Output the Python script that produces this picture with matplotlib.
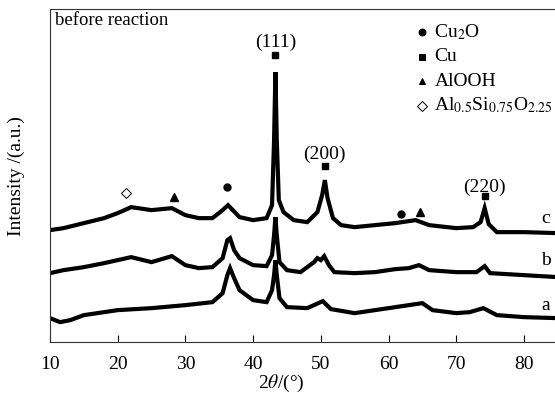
import matplotlib
matplotlib.use("Agg")
import matplotlib.pyplot as plt

plt.rcParams["font.family"] = "Liberation Serif"
plt.rcParams["mathtext.fontset"] = "stix"

# 2theta positions and intensities (a.u., stacked)
c_x = [10, 12, 15, 18, 20, 22, 25, 28, 30, 32, 34, 35.5, 36.3, 37, 38, 40, 42, 42.8, 43.1, 43.3,
       43.5, 43.8, 44.5, 46, 48, 49.5, 50.2, 50.6, 51, 51.8, 53, 55, 58, 61, 64, 66, 70, 72.5,
       73.6, 74.2, 74.8, 76, 80, 85]
c_y = [112, 114, 119, 124, 129, 135, 132, 134, 127, 124, 124, 132, 137, 132, 125, 122, 124, 137, 202, 270,
       202, 142, 130, 122, 120, 130, 147, 162, 144, 124, 117, 115, 117, 119, 122, 117, 114, 115,
       120, 134, 118, 110, 110, 109]

b_x = [10, 12, 15, 18, 20, 22, 25, 28, 30, 32, 34, 35.5, 36.2, 36.6, 37.2, 38, 40, 42, 42.8, 43.1,
       43.3, 43.5, 43.9, 45, 47, 49, 49.5, 50, 50.5, 51.2, 52, 55, 58, 61, 63, 64.5, 66, 70, 73,
       74.2, 75, 80, 85]
b_y = [69, 72, 75, 79, 82, 85, 80, 86, 77, 74, 75, 84, 102, 104, 92, 84, 77, 76, 87, 107,
       125, 107, 80, 72, 70, 80, 84, 82, 86, 77, 70, 69, 70, 73, 74, 77, 72, 70, 70,
       76, 69, 67, 65]

a_x = [10, 11.5, 13, 15, 20, 25, 30, 34, 35.5, 36.2, 36.6, 37.2, 38, 40, 42, 42.8, 43.1, 43.3, 43.5,
       43.9, 45, 48, 50.3, 51.5, 55, 58, 61, 63, 65, 66.5, 70, 72, 74, 76, 80, 85]
a_y = [24, 20, 22, 27, 32, 34, 37, 40, 49, 67, 74, 64, 52, 42, 40, 52, 67, 82, 67,
       44, 35, 34, 41, 33, 29, 32, 35, 37, 39, 32, 29, 30, 34, 27, 25, 24]

# phase markers over the peaks of trace c
cu2o_x, cu2o_y = [36.2, 61.9], [155, 128]
cu_x, cu_y = [43.3, 50.6, 74.2], [287, 176, 146]
alooh_x, alooh_y = [28.3, 64.7], [145, 130]
alsio_x, alsio_y = [21.2], [149]
hkl = ["(111)", "(200)", "(220)"]
hkl_y = [300, 188, 155]

fig = plt.figure(figsize=(5.55, 3.96), dpi=100)
ax = fig.add_axes([0.09, 0.136, 0.915, 0.841])

for x, y in [(a_x, a_y), (b_x, b_y), (c_x, c_y)]:
    ax.plot(x, y, color="black", lw=3.0, solid_joinstyle="miter")

ax.plot(cu2o_x, cu2o_y, "o", color="black", ms=5, ls="none")
ax.plot(cu_x, cu_y, "s", color="black", ms=5, ls="none")
ax.plot(alooh_x, alooh_y, "^", color="black", ms=6, ls="none")
ax.plot(alsio_x, alsio_y, "D", mfc="white", mec="black", mew=0.7, ms=5, ls="none")
for x, lab, y in zip(cu_x, hkl, hkl_y):
    ax.text(x, y, lab, ha="center", va="center", fontsize=14)

for lab, y in zip(["c", "b", "a"], [124, 82, 37]):
    ax.text(83.2, y, lab, ha="center", va="center", fontsize=14)

ax.text(0.01, 0.99, "before reaction", transform=ax.transAxes, ha="left", va="top", fontsize=13.5)

# legend drawn by hand
leg = [("o", "black", r"Cu$_2$O"), ("s", "black", "Cu"), ("^", "black", "AlOOH"),
       ("D", "white", r"Al$_{0.5}$Si$_{0.75}$O$_{2.25}$")]
for i, (m, fc, lab) in enumerate(leg):
    yy = 0.931 - i * 0.0736
    ax.plot([0.732], [yy], m, transform=ax.transAxes, mfc=fc, mec="black", mew=0.7,
            ms=5, clip_on=False)
    ax.text(0.757, yy, lab, transform=ax.transAxes, ha="left", va="center", fontsize=14)

ax.set_xlim(10, 85)
ax.set_ylim(0, 333)
ax.set_xticks(range(10, 90, 10))
ax.set_yticks([])
ax.tick_params(axis="x", direction="in", length=5, labelsize=14, pad=10, top=False)
ax.spines["right"].set_visible(False)
for s in ["left", "bottom", "top"]:
    ax.spines[s].set_linewidth(0.8)
    ax.spines[s].set_color("#333333")

ax.set_xlabel(r"2$\theta$/(°)", fontsize=14, va="center")
ax.xaxis.set_label_coords(0.455, -0.124)
ax.set_ylabel("Intensity /(a.u.)", fontsize=14)
ax.yaxis.set_label_coords(-0.05, 0.5)

fig.savefig("out.png", dpi=100)
